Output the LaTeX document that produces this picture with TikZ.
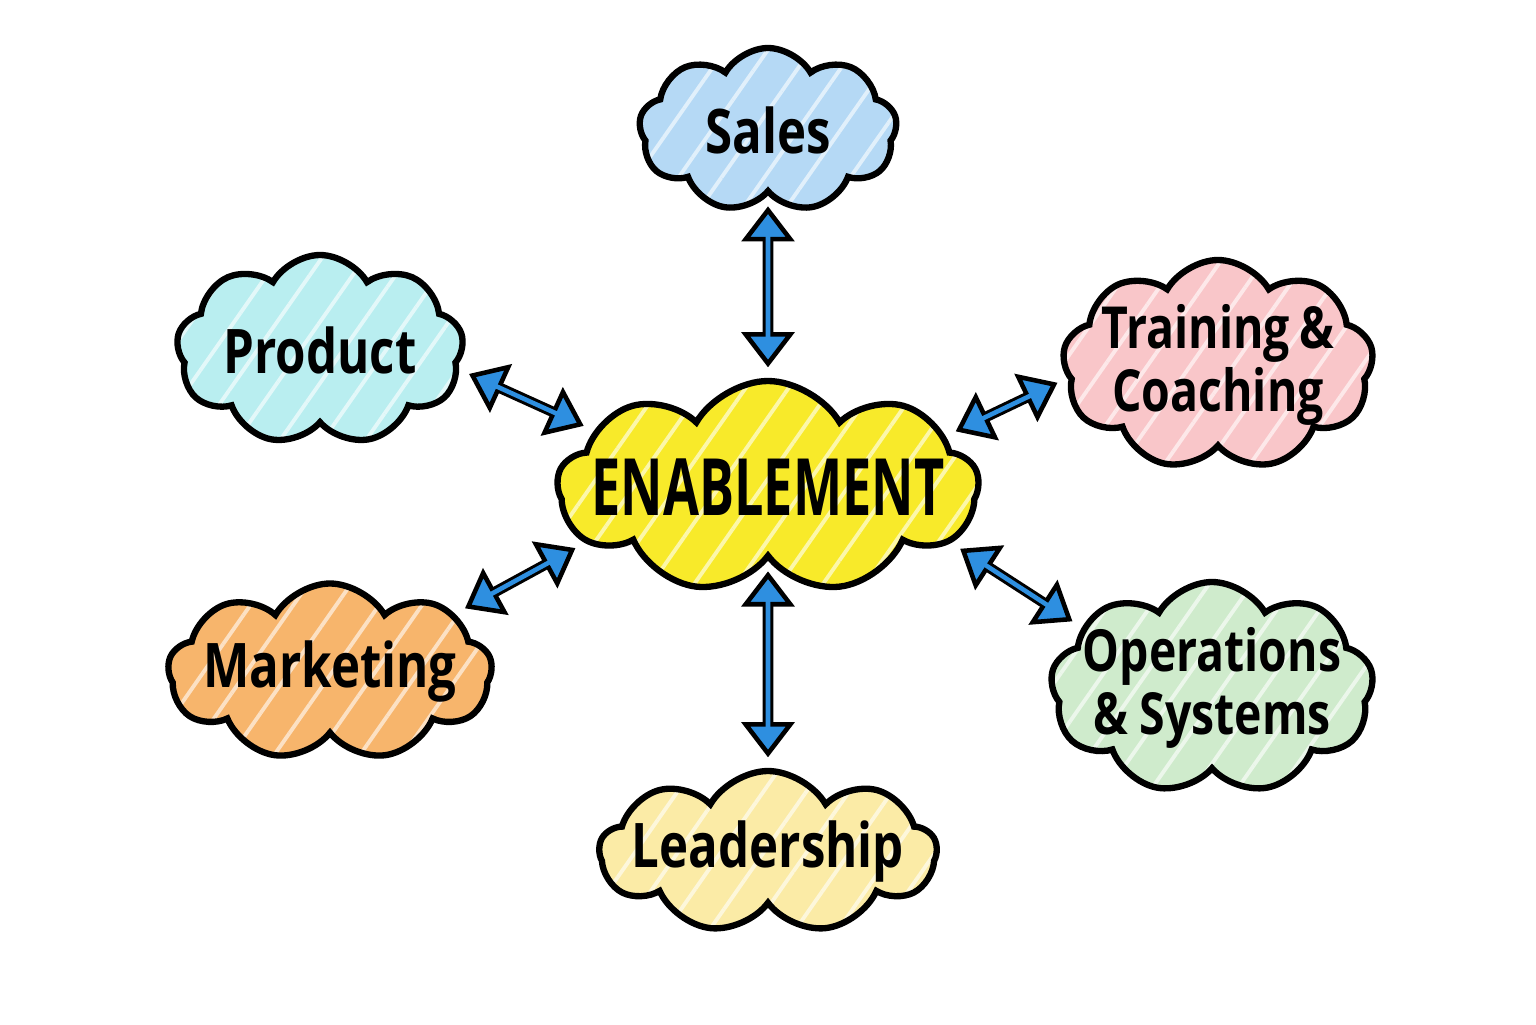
\documentclass[tikz,border=0pt]{standalone}
\usepackage{fontspec}
\setmainfont[FakeStretch=0.8]{Open Sans}
\newfontfamily\narrowfont[FakeStretch=0.66]{Open Sans}
\usetikzlibrary{arrows.meta,shapes.symbols,patterns.meta}

\definecolor{salesblue}{HTML}{B5D9F5}
\definecolor{productcyan}{HTML}{B9EEF0}
\definecolor{trainpink}{HTML}{F9C6C9}
\definecolor{enabyellow}{HTML}{F8EA2A}
\definecolor{marketorange}{HTML}{F7B56C}
\definecolor{opsgreen}{HTML}{CFEBCC}
\definecolor{leadyellow}{HTML}{FBEBA6}
\definecolor{linkblue}{HTML}{2E8FE0}

\begin{document}
\begin{tikzpicture}[
  topic/.style={cloud,cloud puffs=9,cloud puff arc=120,cloud ignores aspect,
    draw=black,line width=1.8pt,align=center,inner xsep=-0.45cm,inner ysep=-0.3cm,
    font=\fontsize{17.5}{18}\selectfont\bfseries,
    preaction={fill=#1},
    preaction={pattern={Lines[angle=55,distance=10pt,line width=1.1pt]},pattern color=white!60!#1}},
  twoline/.style={font=\fontsize{16.5}{18}\selectfont\bfseries},
  link/.style={{Triangle[length=10pt,width=15pt,fill=linkblue,line width=1.3pt]}-{Triangle[length=10pt,width=15pt,fill=linkblue,line width=1.3pt]},
    draw=black,line width=3pt,shorten <=3pt,shorten >=3pt,
    postaction={draw=linkblue,line width=1.3pt,-,shorten <=11pt,shorten >=11pt}}
]
  \useasboundingbox (0,0) rectangle (15.36,10.24);

  \node[topic=enabyellow,minimum width=4.21cm,minimum height=2.12cm,
    font=\fontsize{22.5}{24}\selectfont\bfseries\narrowfont] (enab) at (7.68,5.37) {ENABLEMENT};

  \node[topic=salesblue,minimum width=2.58cm,minimum height=1.64cm] (sales) at (7.68,8.94) {Sales};
  \node[topic=productcyan,minimum width=2.87cm,minimum height=1.90cm] (prod) at (3.20,6.74) {Product};
  \node[topic=trainpink,twoline,minimum width=3.11cm,minimum height=2.10cm] (train) at (12.18,6.59) {Training\,\&\\Coaching};
  \node[topic=marketorange,minimum width=3.24cm,minimum height=1.77cm] (market) at (3.30,3.52) {Marketing};
  \node[topic=opsgreen,twoline,minimum width=3.23cm,minimum height=2.12cm] (ops) at (12.12,3.36) {Operations\\\& Systems};
  \node[topic=leadyellow,minimum width=3.37cm,minimum height=1.62cm] (lead) at (7.68,1.72) {Leadership};

  \draw[link] (sales.south) -- (enab.north);
  \draw[link] (prod.-8) -- (enab.162);
  \draw[link] (enab.16) -- (train.185);
  \draw[link] (market.25) -- (enab.197);
  \draw[link] (enab.-17) -- (ops.155);
  \draw[link] (enab.south) -- (lead.north);
\end{tikzpicture}
\end{document}
